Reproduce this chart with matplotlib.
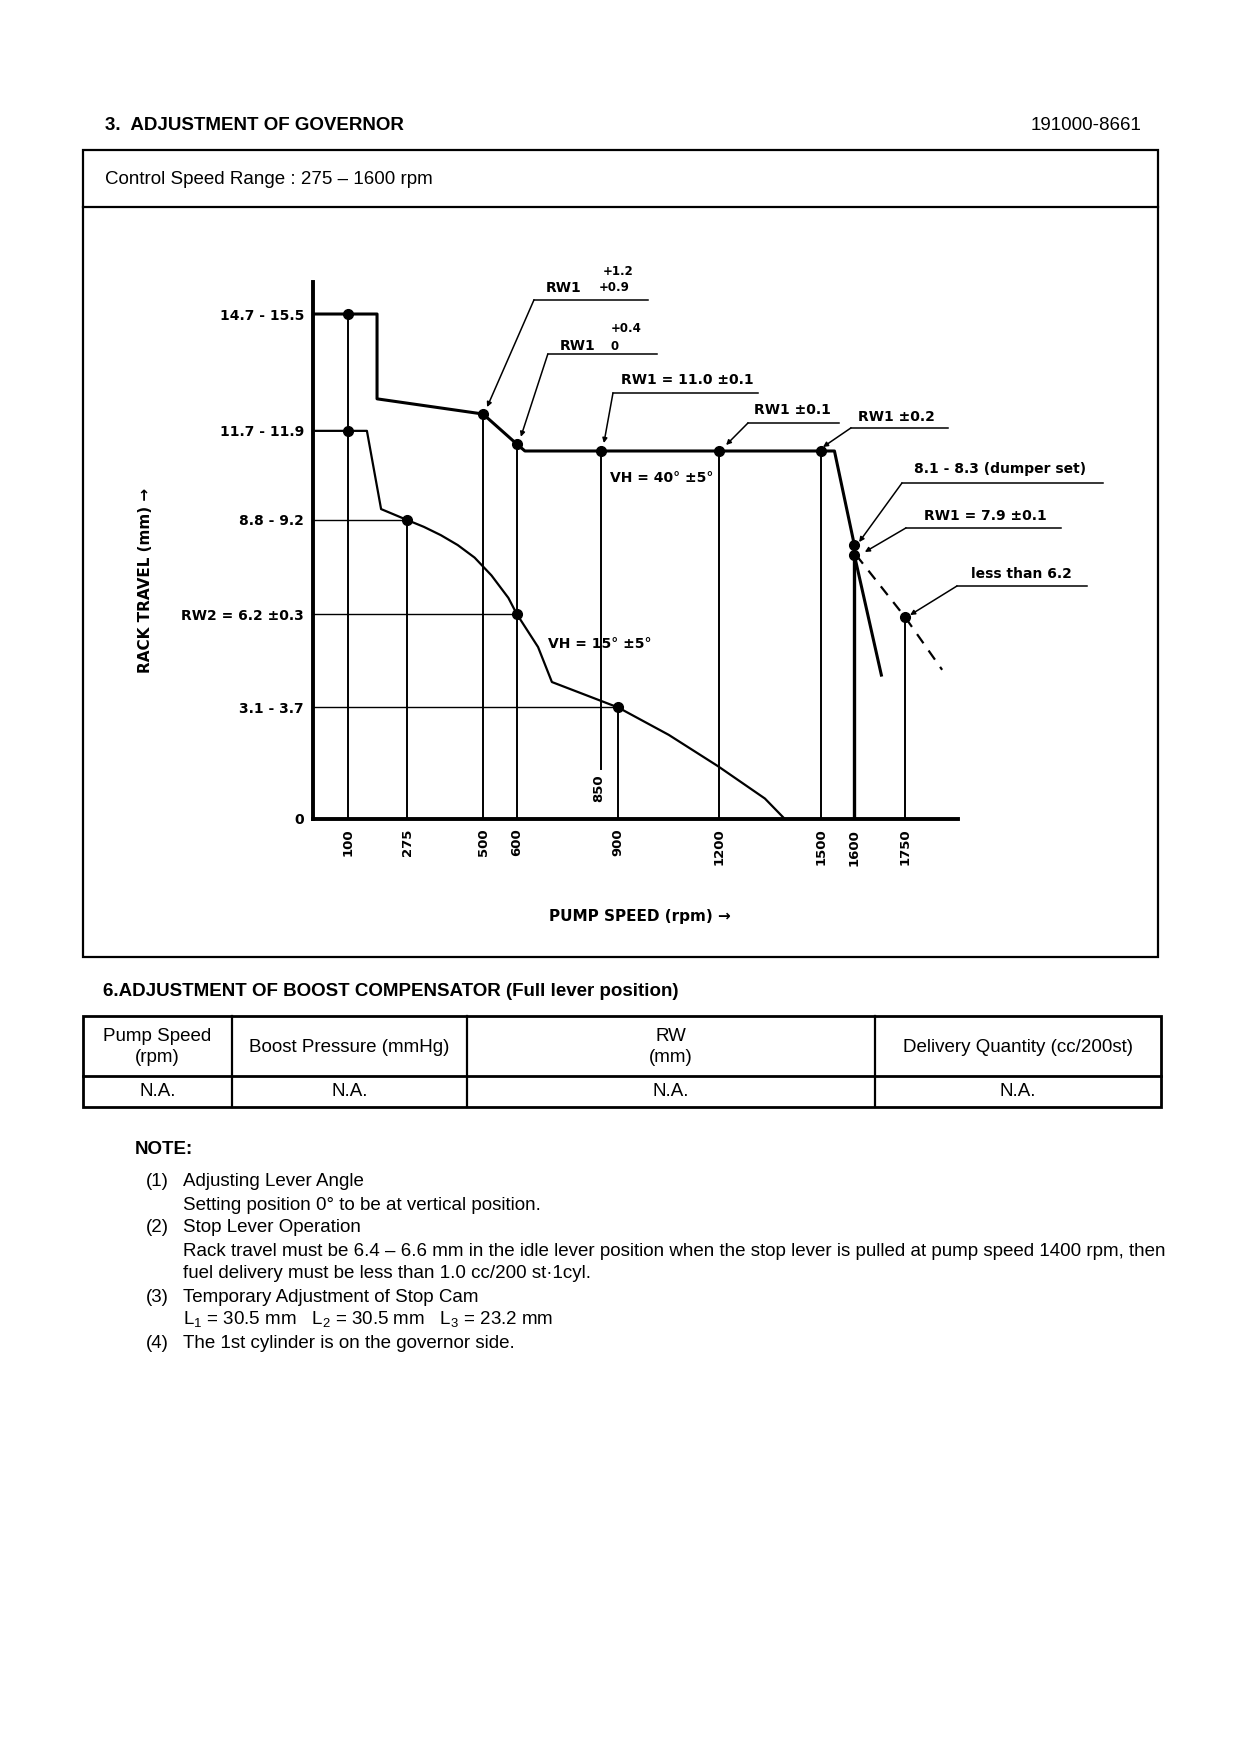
import matplotlib
matplotlib.use("Agg")
import matplotlib.pyplot as plt
from matplotlib.patches import Rectangle

plt.rcParams["font.family"] = ["Liberation Sans", "DejaVu Sans"]
plt.rcParams["mathtext.fontset"] = "custom"
plt.rcParams["mathtext.rm"] = "Liberation Sans"

W, H = 1240, 1754

# --- governor curve data (pump speed rpm, rack travel mm) ---
full_rpm = [0, 186, 186, 500, 600, 624, 1500, 1541, 1600, 1600, 1680]
full_mm = [15.3, 15.3, 12.73, 12.27, 11.36, 11.15, 11.15, 11.15, 8.30, 8.00, 4.36]

idle_rpm = [0, 156, 198, 275, 325, 375, 425, 475, 525, 575, 600, 663, 704, 900, 1050, 1196, 1335, 1394]
idle_mm = [11.76, 11.76, 9.39, 9.06, 8.85, 8.60, 8.30, 7.92, 7.38, 6.70, 6.21, 5.21, 4.15, 3.38, 2.55, 1.60, 0.62, 0.0]

stop_rpm = [1605, 1750, 1860]
stop_mm = [8.0, 6.12, 4.52]

point_rpm = [100, 100, 275, 500, 600, 600, 850, 900, 1200, 1500, 1600, 1600, 1750]
point_mm = [15.3, 11.76, 9.06, 12.27, 11.36, 6.21, 11.15, 3.38, 11.15, 11.15, 8.30, 8.00, 6.12]

guide_rpm = [100, 275, 500, 600, 850, 900, 1200, 1500, 1600, 1750]
guide_low = [0, 0, 0, 0, 1.52, 0, 0, 0, 0, 0]
guide_high = [15.3, 9.06, 12.27, 11.36, 11.15, 3.38, 11.15, 11.15, 8.30, 6.12]

level_mm = [9.06, 6.21, 3.38]
level_rpm = [275, 600, 900]

xtick_rpm = [100, 275, 500, 600, 900, 1200, 1500, 1600, 1750]
ytick_mm = [0, 3.38, 6.21, 9.06, 11.76, 15.3]
ytick_labels = ["0", "3.1 - 3.7", "RW2 = 6.2 ±0.3", "8.8 - 9.2", "11.7 - 11.9", "14.7 - 15.5"]

# callouts: target point, elbow, end of underline, label, label position
CALLOUTS = [
    ((512, 12.48), (651, 15.73), 989, "RW1", (686, 16.09)),
    ((612, 11.58), (692, 14.09), 1015, "RW1", (728, 14.33)),
    ((858, 11.39), (885, 12.91), 1314, "RW1 = 11.0 ±0.1", (909, 13.30)),
    ((1220, 11.33), (1285, 12.00), 1554, "RW1 ±0.1", (1303, 12.39)),
    ((1507, 11.27), (1590, 11.85), 1877, "RW1 ±0.2", (1611, 12.18)),
    ((1614, 8.39), (1741, 10.18), 2336, "8.1 - 8.3 (dumper set)", (1777, 10.61)),
    ((1631, 8.09), (1753, 8.82), 2212, "RW1 = 7.9 ±0.1", (1806, 9.18)),
    ((1765, 6.18), (1904, 7.06), 2289, "less than 6.2", (1945, 7.42)),
]

# --- boost compensator table ---
table_headers = ["Pump Speed\n(rpm)", "Boost Pressure (mmHg)", "RW\n(mm)", "Delivery Quantity (cc/200st)"]
table_values = ["N.A.", "N.A.", "N.A.", "N.A."]
col_edges = [83, 232, 467, 875, 1161]

notes = [
    ("(1)", ["Adjusting Lever Angle",
             "Setting position 0° to be at vertical position."]),
    ("(2)", ["Stop Lever Operation",
             "Rack travel must be 6.4 – 6.6 mm in the idle lever position when the stop lever is pulled at pump speed 1400 rpm, then",
             "fuel delivery must be less than 1.0 cc/200 st·1cyl."]),
    ("(3)", ["Temporary Adjustment of Stop Cam",
             r"L$_\mathrm{1}$ = 30.5 mm   L$_\mathrm{2}$ = 30.5 mm   L$_\mathrm{3}$ = 23.2 mm"]),
    ("(4)", ["The 1st cylinder is on the governor side."]),
]

fig = plt.figure(figsize=(W / 100, H / 100), dpi=100)
fig.patch.set_facecolor("white")

page = fig.add_axes([0, 0, 1, 1])
page.set_xlim(0, W)
page.set_ylim(H, 0)
page.axis("off")

body = dict(fontsize=13.5, color="k")
page.text(105, 125, "3.  ADJUSTMENT OF GOVERNOR", fontweight="bold", va="center", **body)
page.text(1142, 125, "191000-8661", ha="right", va="center", **body)
page.add_patch(Rectangle((83, 150), 1075, 807, fill=False, lw=1.6, ec="k"))
page.plot([83, 1158], [207, 207], color="k", lw=1.6)
page.text(105, 179, "Control Speed Range : 275 – 1600 rpm", va="center", **body)

page.text(103, 992, "6.ADJUSTMENT OF BOOST COMPENSATOR (Full lever position)",
          fontweight="bold", va="center", **body)
page.add_patch(Rectangle((83, 1016), 1078, 91, fill=False, lw=2.0, ec="k"))
page.plot([83, 1161], [1076, 1076], color="k", lw=2.0)
for x in col_edges[1:-1]:
    page.plot([x, x], [1016, 1107], color="k", lw=1.6)
for i, (hd, val) in enumerate(zip(table_headers, table_values)):
    cx = (col_edges[i] + col_edges[i + 1]) / 2
    page.text(cx, 1047, hd, ha="center", va="center", linespacing=1.25, **body)
    page.text(cx, 1092, val, ha="center", va="center", **body)

page.text(135, 1149, "NOTE:", fontweight="bold", va="center", **body)
y = 1182
for num, lines in notes:
    page.text(146, y, num, va="center", **body)
    for ln in lines:
        page.text(183, y, ln, va="center", **body)
        y += 23

# --- chart ---
ax = fig.add_axes([313 / W, 1 - 819 / H, 645 / W, 537 / H])
ax.patch.set_alpha(0)
ax.set_xlim(-3.7, 1907)
ax.set_ylim(0, 16.27)
for s in ["top", "right"]:
    ax.spines[s].set_visible(False)
for s in ["left", "bottom"]:
    ax.spines[s].set_linewidth(2.8)

CH = dict(family="DejaVu Sans", fontweight="bold", color="k")

ax.set_xticks(xtick_rpm, [str(v) for v in xtick_rpm], rotation=90, fontsize=9.5, **CH)
ax.set_yticks(ytick_mm, ytick_labels, fontsize=10, **CH)
ax.tick_params(axis="x", length=0, pad=7)
ax.tick_params(axis="y", length=0, pad=6.5)

for r, lo, hi in zip(guide_rpm, guide_low, guide_high):
    ax.plot([r, r], [lo, hi], color="k", lw=2.4 if r == 1600 else 1.4)
for m, r in zip(level_mm, level_rpm):
    ax.plot([0, r], [m, m], color="k", lw=1.0)

ax.plot(full_rpm, full_mm, color="k", lw=2.2)
ax.plot(idle_rpm, idle_mm, color="k", lw=1.6)
ax.plot(stop_rpm, stop_mm, color="k", lw=1.6, dashes=(5, 4))
ax.plot(point_rpm, point_mm, "o", color="k", ms=7, zorder=5)

for target, elbow, end, label, pos in CALLOUTS:
    ax.annotate("", xy=target, xytext=elbow, annotation_clip=False,
                arrowprops=dict(arrowstyle="-|>", color="k", lw=1.1,
                                mutation_scale=7, shrinkA=0, shrinkB=0))
    ax.plot([elbow[0], end], [elbow[1], elbow[1]], color="k", lw=1.1, clip_on=False)
    ax.text(pos[0], pos[1], label, fontsize=10, va="center", ha="left", clip_on=False, **CH)

# stacked tolerances
ax.text(843, 16.09, "+0.9", fontsize=8.5, va="center", ha="left", clip_on=False, **CH)
ax.text(855, 16.58, "+1.2", fontsize=8.5, va="center", ha="left", clip_on=False, **CH)
ax.text(879, 14.33, "0", fontsize=8.5, va="center", ha="left", clip_on=False, **CH)
ax.text(879, 14.85, "+0.4", fontsize=8.5, va="center", ha="left", clip_on=False, **CH)

ax.text(876, 10.33, "VH = 40° ±5°", fontsize=10, va="center", ha="left", **CH)
ax.text(692, 5.30, "VH = 15° ±5°", fontsize=10, va="center", ha="left", **CH)
ax.text(843, 0.94, "850", fontsize=9.5, rotation=90, va="center", ha="center", **CH)

page.text(145, 580, "RACK TRAVEL (mm) →", rotation=90, fontsize=11, ha="center", va="center", **CH)
page.text(640, 917, "PUMP SPEED (rpm) →", fontsize=11, ha="center", va="center", **CH)

fig.savefig("out.png", dpi=100, facecolor="white")
